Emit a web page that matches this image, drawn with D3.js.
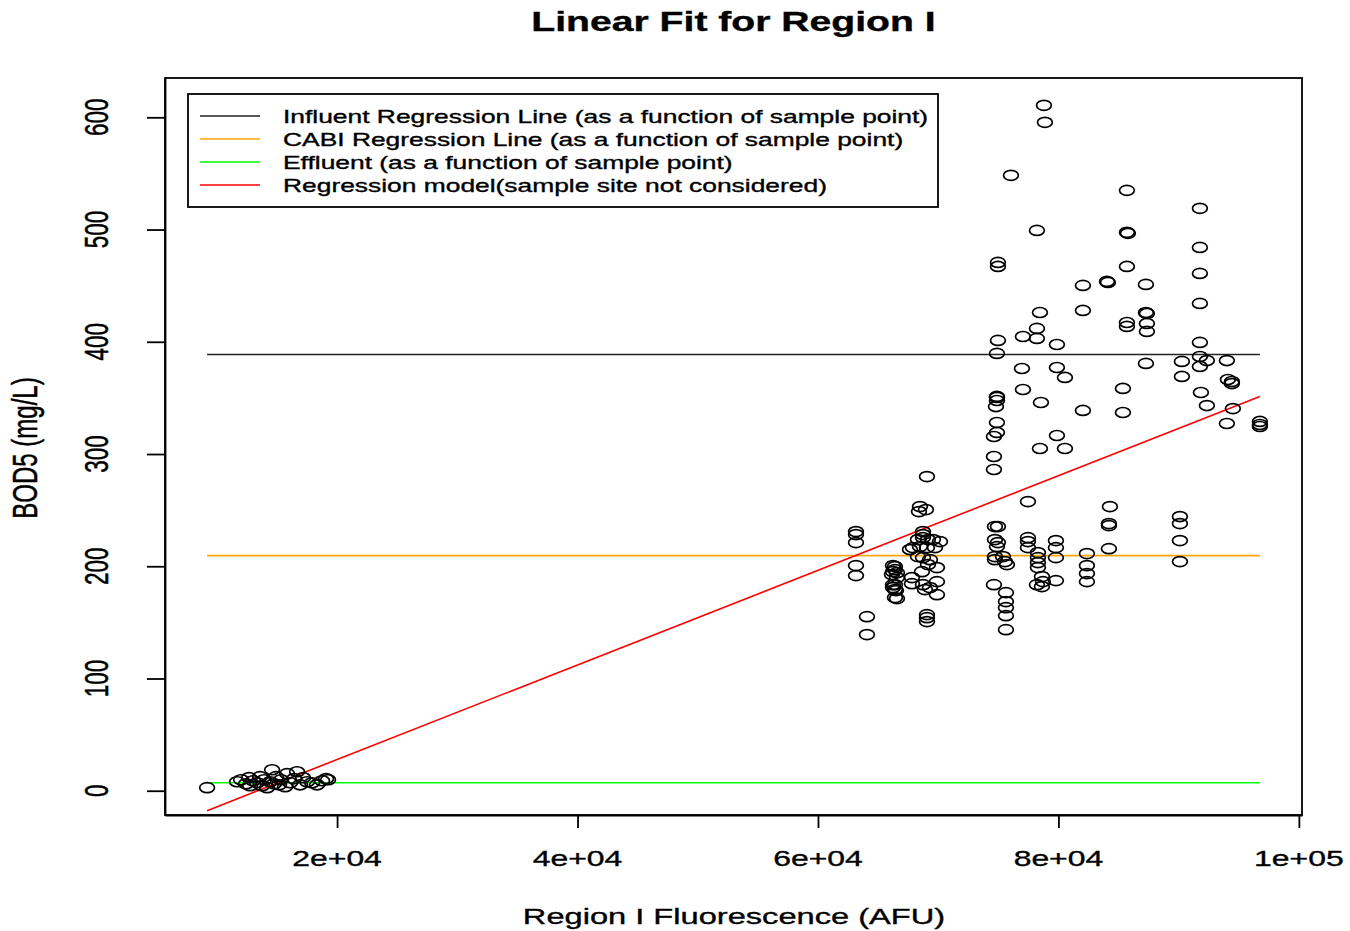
<!DOCTYPE html>
<html>
<head>
<meta charset="utf-8">
<script src="https://cdn.jsdelivr.net/npm/d3@7"></script>
<style>
  html, body { margin: 0; padding: 0; background: #fff; }
  svg { display: block; }
  text { font-family: "Liberation Sans", Arial, sans-serif; fill: #000; stroke: #000; stroke-width: 0.35px; }
</style>
</head>
<body>
<svg id="chart" width="1350" height="931"></svg>
<script>
// Sample fluorescence (AFU) and measured BOD5 (mg/L)
const fluorescence = [
  // effluent samples
  9190, 11684, 12017, 12432, 12682, 12765, 13015, 13347, 13597, 13763, 13929, 14179, 14428, 14595, 14761,
  14927, 15177, 15343, 15676, 15842, 16091, 16424, 16674, 16923, 17173, 17505, 17921, 18337, 18753, 19085, 19252,
  // CABI samples
  63160, 63160, 63160, 63160, 63160, 64075, 64075,
  66237, 66403, 66154, 66570, 66403, 66237, 66486, 66570, 66403, 66237, 66570, 66237, 66403, 66403,
  67817, 67817, 67651, 67900,
  68482, 68981, 68399, 68732, 68732, 68732, 69148, 69563, 68316, 69064, 69730, 68482, 70146, 68316, 68732,
  69314, 69148, 69896, 68649, 68732, 69896, 68898, 69314, 69896, 69064, 69064, 69064, 69064,
  // influent and mixed samples
  74969, 74886, 74886, 74886, 74886, 74803, 74886, 74886, 74636, 74636, 74636, 74719, 74969, 74719, 74969,
  74886, 74719, 74719, 75385, 75552, 75717, 74636, 75634, 75634, 75634, 75634, 75634, 74969, 74969,
  76050,
  76965, 77048, 77048, 77464, 77464, 77464, 77464,
  78212, 78212, 78212, 78212, 78295, 78295, 78295, 78295,
  78462, 78545, 78462, 78628, 78711, 78628, 78794, 78877,
  79792, 79792, 79792, 79792, 79875, 79875, 79875, 80541, 80541,
  82037, 82037, 82037, 82370, 82370, 82370, 82370,
  84033, 84116, 84283, 84200, 84200, 84200,
  85364, 85364, 85697, 85697, 85780, 85697, 85697, 85697,
  87277, 87277, 87360, 87360, 87360, 87277,
  90104, 90104, 90104, 90104, 90270, 90270,
  91767, 91767, 91767, 91767, 91767, 91767, 91767, 91850, 92349, 92349,
  94012, 94096, 94428, 94428, 94012, 94511,
  96757, 96757, 96757
];
const bod5 = [
  2.7, 8.0, 9.8, 6.2, 11.6, 4.5, 8.9, 7.1, 12.5, 4.5, 9.8, 2.7, 8.0, 18.7, 6.2,
  12.5, 5.3, 9.8, 3.6, 15.2, 7.1, 10.7, 16.9, 5.3, 11.6, 8.0, 7.1, 5.3, 8.9, 10.7, 9.8,
  230.9, 228.2, 221.1, 200.6, 191.7, 155.1, 139.1,
  200.6, 197.0, 192.6, 189.9, 183.6, 181.0, 178.3, 171.2, 199.7, 195.2, 194.3, 183.6, 179.2, 172.1,
  189.9, 184.5, 214.9, 216.6,
  253.2, 250.5, 248.7, 230.9, 228.2, 225.5, 223.8, 223.8, 223.8, 216.6, 216.6, 217.5, 222.0, 208.6, 207.7,
  205.9, 201.5, 198.8, 195.2, 183.6, 186.3, 179.2, 181.0, 174.7, 156.9, 154.2, 150.7, 279.9,
  401.2, 389.6, 351.3, 350.4, 347.7, 342.3, 328.1, 319.2, 315.6, 297.8, 286.2, 235.4, 235.4, 223.8, 221.1,
  217.5, 208.6, 205.9, 208.6, 204.2, 201.5, 183.6, 176.5, 168.5, 163.1, 156.0, 143.5, 470.7, 467.1,
  548.3,
  376.2, 404.7, 357.5, 257.6, 225.5, 222.0, 216.6,
  499.2, 411.9, 403.0, 183.6, 212.2, 207.7, 203.3, 198.8,
  426.1, 345.9, 304.9, 190.8, 186.3, 181.9, 610.7, 595.5,
  222.9, 216.6, 207.7, 187.2, 397.6, 377.1, 316.5, 368.2, 304.9,
  450.2, 427.9, 338.8, 211.3, 200.6, 193.5, 186.3,
  453.8, 452.9, 253.2, 238.0, 236.2, 215.7,
  358.4, 337.0, 534.9, 497.5, 496.6, 467.1, 417.2, 413.7,
  451.1, 426.1, 425.2, 416.3, 409.2, 380.7,
  244.3, 238.0, 222.9, 204.2, 382.5, 369.1,
  518.9, 484.1, 460.9, 434.2, 399.4, 386.9, 378.0, 354.8, 383.3, 343.2,
  383.3, 366.4, 364.6, 362.8, 327.2, 340.5,
  329.0, 326.3, 324.5
];

// Fitted lines: constant means per site and the pooled linear model
const fitNames = [
  "Influent Regression Line (as a function of sample point)",
  "CABI Regression Line (as a function of sample point)",
  "Effluent (as a function of sample point)",
  "Regression model(sample site not considered)"
];
const fitColors = ["#222222", "#FFA500", "#00FF00", "#FF0000"];
const fitIntercepts = [388.7, 209.5, 7.1, -56.5];
const fitSlopes = [0, 0, 0, 0.004215];

const xTicks = [20000, 40000, 60000, 80000, 100000];
const xTickLabels = ["2e+04", "4e+04", "6e+04", "8e+04", "1e+05"];
const yTicks = [0, 100, 200, 300, 400, 500, 600];

const svg = d3.select("#chart");
const plot = { left: 165, right: 1302, top: 78, bottom: 815 };
const SX = 1.45; // horizontal stretch of lettering

const points = fluorescence.map((x, i) => ({ x, y: bod5[i] }));

// R-style 4% padding around the data range
function padded(ext) {
  const d = (ext[1] - ext[0]) * 0.04;
  return [ext[0] - d, ext[1] + d];
}
const xExt = d3.extent(fluorescence);
const x = d3.scaleLinear().domain(padded(xExt)).range([plot.left, plot.right]);
const y = d3.scaleLinear().domain(padded(d3.extent(bod5))).range([plot.bottom, plot.top]);

function label(g, px, py, str, size, opts = {}) {
  const rot = opts.rotate ? " rotate(-90)" : "";
  return g.append("text")
    .attr("transform", `translate(${px},${py}) scale(${SX},1)${rot}`)
    .attr("text-anchor", opts.anchor || "middle")
    .attr("font-size", size)
    .attr("font-weight", opts.weight || "normal")
    .text(str);
}

// fitted lines across the range of observed fluorescence
const lineGen = d3.line().x(d => x(d[0])).y(d => y(d[1]));
const gLines = svg.append("g");
fitNames.forEach((n, i) => {
  const pts = xExt.map(v => [v, fitIntercepts[i] + fitSlopes[i] * v]);
  gLines.append("path")
    .attr("d", lineGen(pts))
    .attr("fill", "none")
    .attr("stroke", fitColors[i])
    .attr("stroke-width", 1.6);
});

// observations as open circles
svg.append("g").selectAll("ellipse").data(points).join("ellipse")
  .attr("cx", d => x(d.x))
  .attr("cy", d => y(d.y))
  .attr("rx", 7.4)
  .attr("ry", 5.0)
  .attr("fill", "none")
  .attr("stroke", "#000")
  .attr("stroke-width", 1.7);

// plot frame
svg.append("rect")
  .attr("x", plot.left).attr("y", plot.top)
  .attr("width", plot.right - plot.left).attr("height", plot.bottom - plot.top)
  .attr("fill", "none").attr("stroke", "#000").attr("stroke-width", 1.8);

// x axis
const xAxis = d3.axisBottom(x).tickValues(xTicks)
  .tickFormat((d, i) => xTickLabels[i]).tickSizeInner(13).tickSizeOuter(0).tickPadding(0);
const gx = svg.append("g").attr("transform", `translate(0,${plot.bottom})`).call(xAxis);
gx.select(".domain").attr("stroke-width", 1.8);
gx.selectAll(".tick line").attr("stroke-width", 1.8);
gx.selectAll(".tick text").remove();
xTicks.forEach((v, i) => label(svg, x(v), 866, xTickLabels[i], 22));

// y axis
const yAxis = d3.axisLeft(y).tickValues(yTicks).tickSizeInner(18).tickSizeOuter(0);
const gy = svg.append("g").attr("transform", `translate(${plot.left},0)`).call(yAxis);
gy.select(".domain").attr("stroke-width", 1.8);
gy.selectAll(".tick line").attr("stroke-width", 1.8);
gy.selectAll(".tick text").remove();
yTicks.forEach(v => label(svg, 108, y(v), String(v), 22.5, { rotate: true }));

// titles
label(svg, 733.5, 31, "Linear Fit for Region I", 27, { weight: "bold" });
label(svg, 734, 924, "Region I Fluorescence (AFU)", 22.5);
label(svg, 37, 448, "BOD5 (mg/L)", 24, { rotate: true });

// legend
const lg = svg.append("g");
lg.append("rect").attr("x", 188).attr("y", 94).attr("width", 750).attr("height", 113)
  .attr("fill", "#fff").attr("stroke", "#000").attr("stroke-width", 1.8);
fitNames.forEach((n, i) => {
  const ry = 116 + i * 23;
  lg.append("line").attr("x1", 200).attr("x2", 260).attr("y1", ry).attr("y2", ry)
    .attr("stroke", fitColors[i]).attr("stroke-width", 1.6);
  label(lg, 283, ry + 6.5, n, 18.2, { anchor: "start" });
});
</script>
</body>
</html>
